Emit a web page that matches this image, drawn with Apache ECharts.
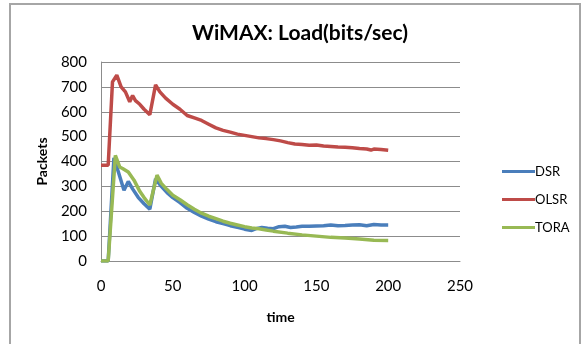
<!DOCTYPE html>
<html><head><meta charset="utf-8">
<script src="https://cdn.jsdelivr.net/npm/echarts@6/dist/echarts.min.js"></script>
<style>html,body{margin:0;padding:0;background:#fff;}#c{width:585px;height:344px;}</style>
</head><body><div id="c"></div>
<script>
const xTicks = [0, 50, 100, 150, 200, 250];
const yTicks = [0, 100, 200, 300, 400, 500, 600, 700, 800];
const dsrT = [0,5,9,12,16,19,22,26,30,34,38,42,46,50,55,60,65,70,75,80,85,90,95,100,105,108,112,116,120,124,128,132,136,140,145,150,155,160,165,170,175,180,185,190,195,200];
const dsrV = [0,0,415,360,284,320,290,255,230,208,330,300,275,255,235,212,195,180,168,158,150,142,135,128,123,130,135,132,130,138,140,135,137,140,140,141,142,145,142,143,145,146,142,147,145,145];
const olsrT = [0,5,8,11,12,14,17,20,22,24,27,30,34,38,41,45,50,55,60,65,70,75,80,85,90,95,100,105,110,115,120,125,130,135,140,145,150,155,160,165,170,175,180,185,188,190,195,200];
const olsrV = [385,385,720,747,740,700,680,640,665,645,630,610,588,708,680,655,630,610,585,575,565,550,535,525,518,510,505,500,495,492,488,483,476,470,468,465,466,462,460,458,457,455,452,450,446,450,448,445];
const toraT = [0,5,10,13,15,19,23,27,30,34,39,42,46,50,55,60,65,70,75,80,85,90,95,100,105,110,115,120,130,140,150,160,170,180,190,200];
const toraV = [0,0,425,378,372,358,325,280,255,225,345,312,287,264,246,226,208,192,180,170,160,152,145,138,133,130,125,120,112,105,100,95,92,88,83,82];
const seriesNames = ['DSR', 'OLSR', 'TORA'];
const colors = ['#4a7ebb', '#be4b48', '#98b954'];

const pairs = (t, v) => t.map((x, i) => [x, v[i]]);
const datasets = [pairs(dsrT, dsrV), pairs(olsrT, olsrV), pairs(toraT, toraV)];
const font = 'Lato, "Open Sans", sans-serif';
const chart = echarts.init(document.getElementById('c'), null, {renderer: 'canvas'});
chart.setOption({
  animation: false,
  color: colors,
  title: {text: 'WiMAX: Load(bits/sec)', left: 295, top: 18, textAlign: 'center',
    textStyle: {fontFamily: font, fontWeight: 'bold', fontSize: 21, color: '#000'}},
  graphic: [{type: 'rect', shape: {x: 10, y: 4, width: 570, height: 350},
    style: {fill: 'none', stroke: '#a6a6a6', lineWidth: 2}, silent: true}],
  legend: {orient: 'vertical', left: 497, top: 160, itemWidth: 33, itemHeight: 3, itemGap: 15,
    icon: 'rect', data: seriesNames,
    textStyle: {fontFamily: font, fontSize: 13, color: '#000', padding: [0, 0, 0, -5]}},
  grid: {left: 101, right: 125, top: 62, bottom: 83},
  xAxis: {type: 'value', min: 0, max: 250, interval: 50, name: 'time', nameLocation: 'middle', nameGap: 49,
    nameTextStyle: {fontFamily: font, fontWeight: 'bold', fontSize: 14, color: '#000'},
    axisLine: {lineStyle: {color: '#8c8c8c'}}, axisTick: {show: false}, splitLine: {show: false},
    axisLabel: {fontFamily: font, fontSize: 15, color: '#000', margin: 18,
      formatter: v => xTicks.includes(v) ? String(v) : ''}},
  yAxis: {type: 'value', min: 0, max: 800, interval: 100, name: 'Packets', nameLocation: 'middle', nameGap: 52,
    nameTextStyle: {fontFamily: font, fontWeight: 'bold', fontSize: 14, color: '#000'},
    axisLine: {show: true, lineStyle: {color: '#8c8c8c'}}, axisTick: {show: false},
    splitLine: {lineStyle: {color: '#8c8c8c'}},
    axisLabel: {fontFamily: font, fontSize: 15, color: '#000', margin: 14,
      formatter: v => yTicks.includes(v) ? String(v) : ''}},
  series: seriesNames.map((n, i) => ({name: n, type: 'line', data: datasets[i], showSymbol: false,
    lineStyle: {width: 3.5, color: colors[i]}}))
});
</script></body></html>
